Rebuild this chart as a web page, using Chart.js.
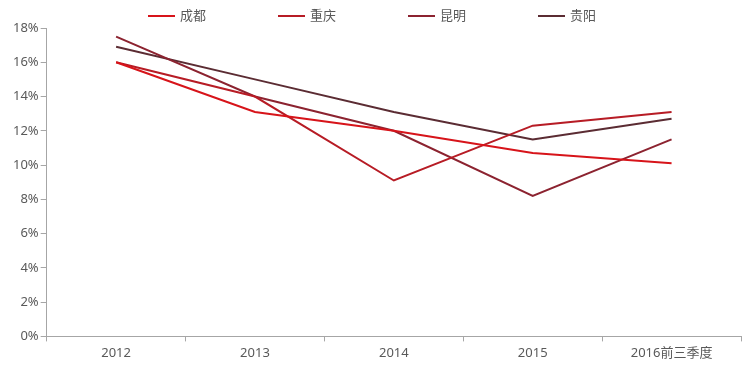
<!DOCTYPE html>
<html>
<head>
<meta charset="utf-8">
<script src="https://cdn.jsdelivr.net/npm/chart.js@4"></script>
<style>
  html, body { margin: 0; padding: 0; background: #fff; }
  #wrap { width: 742px; height: 368px; }
</style>
</head>
<body>
<div id="wrap"><canvas id="lineChart"></canvas></div>
<script>
const years = ['2012', '2013', '2014', '2015', '2016前三季度']
const chengdu = [16.0, 13.1, 12.0, 10.7, 10.1]
const chongqing = [16.0, 14.0, 9.1, 12.3, 13.1]
const kunming = [17.5, 14.0, 12.0, 8.2, 11.5]
const guiyang = [16.9, 15.0, 13.1, 11.5, 12.7]
const yTicks = [0, 2, 4, 6, 8, 10, 12, 14, 16, 18]

const font = "'Noto Sans', 'Noto Sans CJK SC', sans-serif"
const textColor = '#595959'

// legend drawn in fixed slots like the original
const topLegend = {
  id: 'topLegend',
  afterDraw(chart) {
    const ctx = chart.ctx
    ctx.save()
    ctx.font = `13px ${font}`
    ctx.textBaseline = 'middle'
    chart.data.datasets.forEach((ds, i) => {
      const x = 148 + i * 130
      const y = 16
      ctx.strokeStyle = ds.borderColor
      ctx.lineWidth = 2
      ctx.beginPath()
      ctx.moveTo(x, y)
      ctx.lineTo(x + 27, y)
      ctx.stroke()
      ctx.fillStyle = textColor
      ctx.fillText(ds.label, x + 32, y)
    })
    ctx.restore()
  }
}

function line(label, data, color) {
  return {
    label,
    data,
    borderColor: color,
    backgroundColor: color,
    borderWidth: 2,
    pointRadius: 0,
    tension: 0,
    fill: false
  }
}

new Chart(document.getElementById('lineChart'), {
  type: 'line',
  data: {
    labels: years,
    datasets: [
      line('成都', chengdu, '#D7141A'),
      line('重庆', chongqing, '#B71C25'),
      line('昆明', kunming, '#8C2330'),
      line('贵阳', guiyang, '#5B2C33')
    ]
  },
  options: {
    responsive: true,
    maintainAspectRatio: false,
    animation: false,
    layout: { padding: { top: 28, right: 1, bottom: 3, left: 11 } },
    plugins: { legend: { display: false }, tooltip: { enabled: false } },
    scales: {
      x: {
        offset: true,
        grid: { offset: true, drawOnChartArea: false, drawTicks: true, tickLength: 5, color: '#a6a6a6' },
        border: { display: true, color: '#a6a6a6' },
        ticks: { color: textColor, font: { family: font, size: 13 }, padding: 4, maxRotation: 0 }
      },
      y: {
        min: 0,
        max: 18,
        afterBuildTicks(axis) { axis.ticks = yTicks.map(v => ({ value: v })) },
        grid: { drawOnChartArea: false, drawTicks: true, tickLength: 6, color: '#a6a6a6' },
        border: { display: true, color: '#a6a6a6' },
        ticks: { color: textColor, font: { family: font, size: 13 }, padding: 2, callback: v => v + '%' }
      }
    }
  },
  plugins: [topLegend]
})
</script>
</body>
</html>
